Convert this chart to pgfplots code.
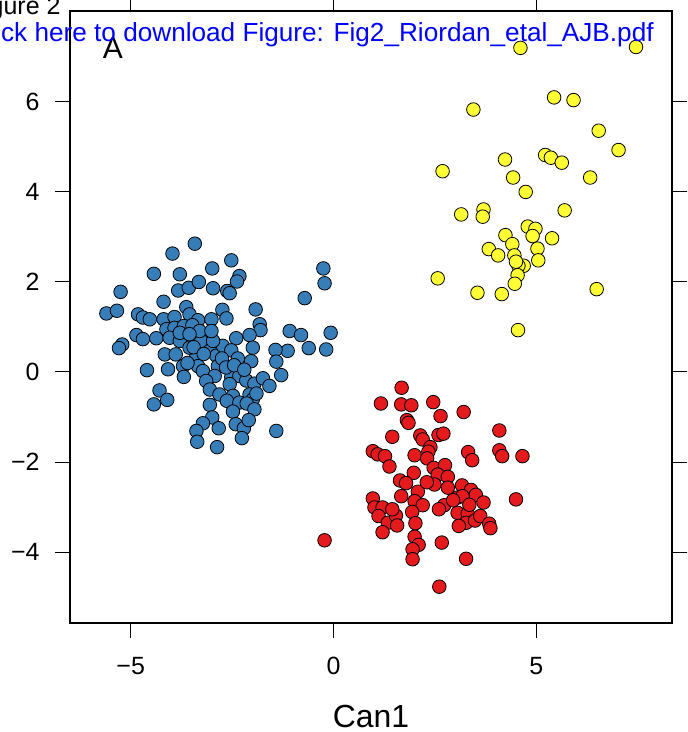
\documentclass[border=0pt]{standalone}
\usepackage{pgfplots}
\pgfplotsset{compat=1.18}
\usepackage{fontspec}
\setmainfont{Liberation Sans}
\definecolor{setblue}{HTML}{377EB8}
\definecolor{setred}{HTML}{E41A1C}
\definecolor{setyellow}{HTML}{FFFF33}
\begin{document}
\begin{tikzpicture}
\begin{axis}[
    at={(0,0)}, anchor=south west,
    scale only axis,
    width=301.5pt, height=306.5pt,
    xmin=-6.5, xmax=8.35,
    ymin=-5.58, ymax=8.02,
    xtick={-5,0,5},
    xticklabels={−5,0,5},
    ytick={-4,-2,0,2,4,6},
    yticklabels={−4,−2,0,2,4,6},
    tick align=outside,
    major tick length=7.5pt,
    tick style={black, line width=0.5pt},
    axis line style={line width=0.8pt},
    ticklabel style={font=\fontsize{12.5}{15}\selectfont, inner sep=0pt},
    xticklabel style={yshift=-9.5pt},
    yticklabel style={xshift=-7.5pt},
    xlabel={Can1},
    xlabel style={font=\fontsize{16}{19}\selectfont, at={(axis description cs:0.5,0)}, anchor=base, yshift=-52pt},
    every axis plot/.append style={only marks, mark=*, mark size=3.4pt, mark options={draw=black, line width=0.85pt}},
]
% group 1 (blue)
\addplot[mark options={fill=setblue}] coordinates {
(-3.42,2.85) (-3.97,2.63) (-4.43,2.18) (-3.79,2.17) (-2.99,2.30) (-5.25,1.78)
(-3.83,1.81) (-3.57,1.87) (-3.32,2.00) (-2.97,1.86) (-4.19,1.56) (-5.60,1.30)
(-5.34,1.36) (-4.82,1.28) (-4.70,1.21) (-4.53,1.17) (-4.19,1.17) (-3.92,1.22)
(-3.63,1.44) (-3.55,1.28) (-3.34,1.15) (-3.01,1.17) (-4.12,0.95) (-3.92,0.98)
(-3.69,1.02) (-3.48,1.04) (-4.86,0.82) (-4.70,0.73) (-4.37,0.75) (-4.04,0.76)
(-3.79,0.69) (-3.26,0.69) (-5.21,0.61) (-5.29,0.53) (-4.16,0.39) (-3.89,0.39)
(-3.38,0.36) (-3.05,0.47) (-2.89,0.36)
(-2.52,2.48) (-2.32,2.13) (-2.38,2.01) (-2.62,1.80) (-2.56,1.75) (-0.25,2.30)
(-0.22,1.97) (-0.71,1.64) (-1.92,1.39) (-2.74,1.38) (-2.64,1.19) (-1.82,1.06)
(-1.80,0.93) (-2.07,0.82) (-2.40,0.75) (-1.08,0.91) (-0.80,0.82) (-0.07,0.87)
(-0.18,0.50) (-0.61,0.53) (-1.13,0.47) (-1.43,0.49) (-1.99,0.54) (-2.73,0.58)
(-2.52,0.48)
(-1.41,0.23) (-1.29,-0.07) (-2.03,0.24) (-2.36,0.30) (-4.08,0.06) (-3.71,0.13)
(-3.69,-0.11) (-3.34,0.13) (-3.22,0.02) (-2.85,0.13) (-2.93,-0.09) (-3.14,-0.20)
(-2.52,-0.11) (-2.32,-0.09) (-2.15,-0.19) (-1.95,-0.26) (-1.74,-0.14) (-1.58,-0.31)
(-2.56,-0.27) (-3.05,-0.39) (-4.29,-0.41) (-4.43,-0.72) (-4.10,-0.62) (-2.81,-0.50)
(-2.48,-0.53) (-2.63,-0.64) (-2.32,-0.68) (-2.07,-0.50) (-1.99,-0.61) (-1.90,-0.48)
(-2.14,-0.70) (-3.05,-0.73) (-2.48,-0.88) (-1.95,-0.83) (-2.99,-1.01) (-3.22,-1.14)
(-2.83,-1.25) (-3.38,-1.31) (-3.36,-1.55) (-2.87,-1.67) (-2.41,-1.16) (-2.21,-1.25)
(-2.09,-1.07) (-2.26,-1.47) (-1.41,-1.31) (-4.60,0.04)
(-3.79,0.87) (-3.30,0.91) (-2.97,0.69) (-3.55,0.54) (-3.01,0.91) (-3.55,0.84)
(-3.60,0.20) (-3.45,0.55) (-2.75,0.30) (-2.65,0.10) (-3.20,0.40) (-2.45,0.15)
(-2.20,0.05)
};
% group 2 (red)
\addplot[mark options={fill=setred}] coordinates {
(1.68,-0.35) (1.17,-0.70) (1.67,-0.72) (1.92,-0.74) (2.46,-0.67) (3.21,-0.89)
(2.64,-0.98) (1.81,-1.07) (1.85,-1.13) (1.45,-1.44) (2.14,-1.41) (2.20,-1.50)
(2.59,-1.40) (2.71,-1.37) (2.39,-1.67) (4.09,-1.30) (4.09,-1.74) (4.16,-1.87)
(4.66,-1.87) (3.32,-1.78) (3.42,-1.96) (0.97,-1.76) (1.09,-1.83) (1.27,-1.87)
(1.38,-2.10) (2.00,-1.85) (2.34,-1.77) (2.31,-1.92) (2.47,-2.13) (2.75,-2.07)
(1.98,-2.24) (2.57,-2.28) (2.82,-2.33) (1.64,-2.41) (1.79,-2.47) (2.49,-2.50)
(2.82,-2.57) (2.08,-2.66) (3.17,-2.52) (3.39,-2.62) (3.51,-2.73) (1.67,-2.76)
(0.97,-2.81) (4.50,-2.83)
(-0.22,-3.74) (2.61,-4.77) (1.01,-3.01) (1.21,-3.01) (1.11,-3.20) (1.34,-3.35)
(1.21,-3.56) (1.54,-3.19) (1.57,-3.41) (2.00,-2.87) (2.20,-2.96) (1.94,-3.11)
(2.02,-3.36) (2.00,-3.66) (2.10,-3.84) (1.95,-3.94) (1.95,-4.16) (2.67,-3.79)
(3.27,-4.15) (2.73,-2.96) (3.06,-2.79) (3.18,-2.76) (3.06,-3.13) (3.31,-3.15)
(3.27,-3.35) (3.09,-3.42) (3.49,-3.30) (3.62,-3.20) (3.84,-3.37) (3.87,-3.47)
(2.30,-2.45) (2.95,-2.85) (3.35,-2.95) (2.60,-3.05) (1.45,-3.05) (3.70,-2.90)
};
% group 3 (yellow)
\addplot[mark options={fill=setyellow}] coordinates {
(4.61,7.20) (7.46,7.22) (5.44,6.10) (5.92,6.04) (3.45,5.83) (6.54,5.36)
(7.03,4.93) (4.23,4.72) (5.22,4.82) (5.36,4.76) (5.63,4.65) (2.69,4.46)
(4.43,4.32) (6.33,4.32) (4.74,4.00) (3.15,3.50) (3.70,3.61) (3.68,3.45)
(5.70,3.59) (4.79,3.23) (4.98,3.18) (4.91,3.02) (4.24,3.04) (5.39,2.97)
(4.41,2.84) (3.83,2.73) (4.06,2.59) (4.46,2.59) (5.03,2.74) (5.05,2.48)
(4.69,2.36) (4.56,2.36) (4.50,2.45) (4.54,2.15) (4.47,1.96) (2.57,2.08)
(3.55,1.76) (4.15,1.73) (6.49,1.84) (4.55,0.93)
};
\node[font=\fontsize{15}{18}\selectfont] at (axis cs:-5.44,7.19) {A};
\end{axis}
\node[anchor=base east, text=blue, inner sep=0pt, font=\fontsize{13.1}{15}\selectfont] at (292.5pt,291pt) {Click here to download Figure: Fig2\_Riordan\_etal\_AJB.pdf};
\node[anchor=base east, inner sep=0pt, font=\fontsize{12.5}{14}\selectfont] at (-4.5pt,304.5pt) {Figure 2};
\pgfresetboundingbox
\useasboundingbox (-35pt,-54.5pt) rectangle (309pt,312pt);
\end{tikzpicture}
\end{document}
